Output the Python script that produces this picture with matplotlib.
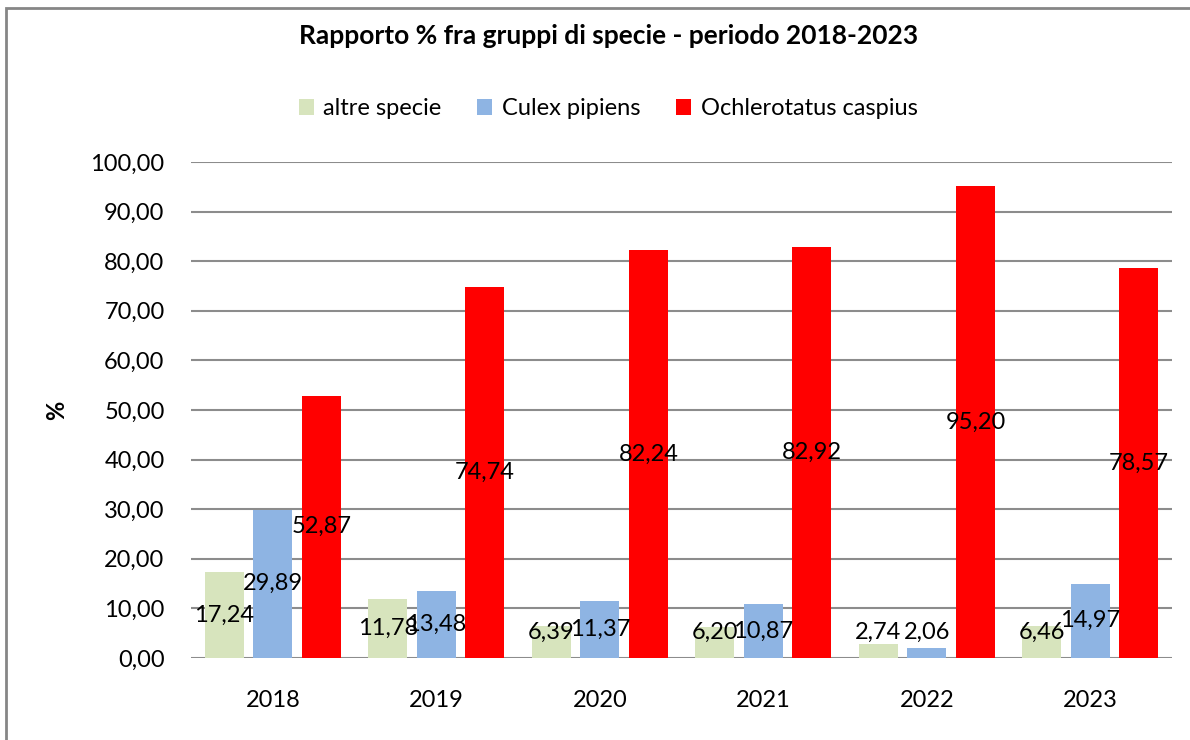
import matplotlib.pyplot as plt
import numpy as np
from matplotlib.patches import Rectangle

years = ["2018", "2019", "2020", "2021", "2022", "2023"]
altre = [17.24, 11.78, 6.39, 6.20, 2.74, 6.46]
culex = [29.89, 13.48, 11.37, 10.87, 2.06, 14.97]
ochler = [52.87, 74.74, 82.24, 82.92, 95.20, 78.57]
series_names = ["altre specie", "Culex pipiens", "Ochlerotatus caspius"]
colors = ["#D7E4BD", "#8EB4E3", "#FF0000"]

plt.rcParams['font.family'] = ['Lato', 'DejaVu Sans']

fig = plt.figure(figsize=(11.9, 7.4), dpi=100)
ax = fig.add_axes([0.1605, 0.111, 0.8245, 0.67])

x = np.arange(len(years))
width = 0.2385
step = 0.297
for i, (vals, name, col) in enumerate(zip([altre, culex, ochler], series_names, colors)):
    ax.bar(x + (i - 1) * step, vals, width=width, color=col, label=name, zorder=2)

# data labels, centred in the bar (kept clear of the baseline for small bars)
for i, vals in enumerate([altre, culex, ochler]):
    for xi, v in zip(x, vals):
        ax.text(xi + (i - 1) * step, max(v / 2, 5.2), f"{v:.2f}".replace(".", ","),
                ha="center", va="center", fontsize=17, zorder=5)

ax.set_xlim(-0.5, 5.5)
ax.set_ylim(0, 100)
ax.set_yticks(np.arange(0, 101, 10))
ax.set_yticklabels([f"{t:.2f}".replace(".", ",") for t in np.arange(0, 101, 10)], fontsize=17)
ax.set_xticks(x)
ax.set_xticklabels(years, fontsize=17)
ax.tick_params(axis="both", length=0)
ax.tick_params(axis="y", pad=19)
ax.tick_params(axis="x", pad=23)
ax.grid(axis="y", color="#8C8C8C", linewidth=1.5, zorder=0)
ax.set_axisbelow(True)
for s in ax.spines.values():
    s.set_visible(False)

ax.set_ylabel("%", fontsize=17, fontweight="bold", labelpad=16)

fig.text(0.511, 0.951, "Rapporto % fra gruppi di specie - periodo 2018-2023",
         ha="center", va="center", fontsize=19, fontweight="bold")

fig.legend(loc="center", bbox_to_anchor=(0.511, 0.853), ncol=3, frameon=False,
           fontsize=17, handlelength=0.65, handleheight=0.65, handletextpad=0.4,
           columnspacing=1.5)

# outer chart border
fig.patches.append(Rectangle((6 / 1190, -0.05), 1.1, 1 - 8 / 740 + 0.05,
                             transform=fig.transFigure, fill=False,
                             edgecolor="#868686", linewidth=2))

fig.savefig("out.png", dpi=100)
